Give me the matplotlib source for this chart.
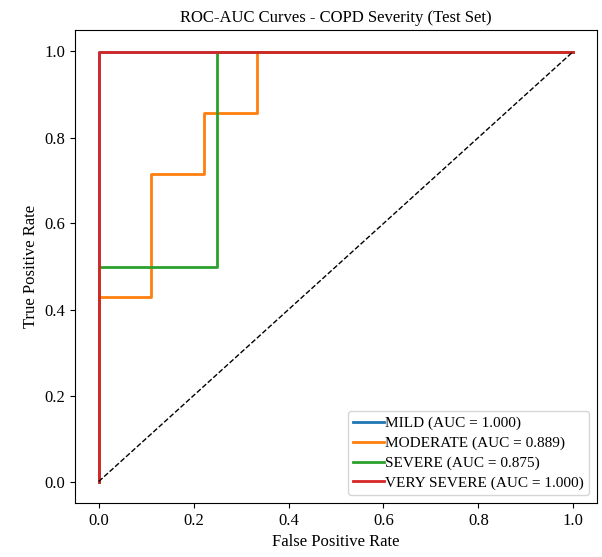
import numpy as np
import matplotlib.pyplot as plt

plt.rcParams['font.family'] = ['Liberation Serif', 'DejaVu Serif']

# ROC curve points per class
classes = ["MILD", "MODERATE", "SEVERE", "VERY SEVERE"]
colors = ["#1f77b4", "#ff7f0e", "#2ca02c", "#d62728"]

fpr_mild = [0.0, 0.0, 1.0]
tpr_mild = [0.0, 1.0, 1.0]

fpr_moderate = [0.0, 0.0, 0.111, 0.111, 0.222, 0.222, 0.333, 0.333, 1.0]
tpr_moderate = [0.0, 0.429, 0.429, 0.714, 0.714, 0.857, 0.857, 1.0, 1.0]

fpr_severe = [0.0, 0.0, 0.25, 0.25, 1.0]
tpr_severe = [0.0, 0.5, 0.5, 1.0, 1.0]

fpr_vsevere = [0.0, 0.0, 1.0]
tpr_vsevere = [0.0, 1.0, 1.0]

aucs = [1.000, 0.889, 0.875, 1.000]

fprs = [fpr_mild, fpr_moderate, fpr_severe, fpr_vsevere]
tprs = [tpr_mild, tpr_moderate, tpr_severe, tpr_vsevere]

fig = plt.figure(figsize=(6.02, 5.57), dpi=100)
ax = fig.add_axes([75 / 602, 54 / 557, 522 / 602, 473 / 557])

for name, fpr, tpr, auc, c in zip(classes, fprs, tprs, aucs, colors):
    ax.plot(fpr, tpr, color=c, lw=2, label=f"{name} (AUC = {auc:.3f})")

ax.plot([0, 1], [0, 1], "k--", lw=1)

ax.set_xlabel("False Positive Rate", fontsize=12)
ax.set_ylabel("True Positive Rate", fontsize=12)
ax.set_title("ROC-AUC Curves - COPD Severity (Test Set)", fontsize=12)
ax.tick_params(labelsize=12)
ax.legend(loc="lower right", fontsize=11, handlelength=2.0, handletextpad=0.1,
          labelspacing=0.4, borderpad=0.35)

fig.savefig("out.png", dpi=100)
